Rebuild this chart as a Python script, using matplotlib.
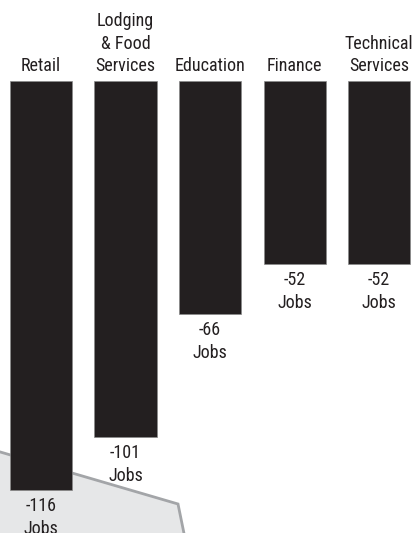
import matplotlib
matplotlib.use("Agg")
import matplotlib.pyplot as plt
from matplotlib.patches import Polygon

categories = ["Retail", "Lodging\n& Food\nServices", "Education", "Finance", "Technical\nServices"]
values = [-116, -101, -66, -52, -52]
value_labels = ["-116\nJobs", "-101\nJobs", "-66\nJobs", "-52\nJobs", "-52\nJobs"]

W, H = 413, 533
fig = plt.figure(figsize=(W / 100, H / 100), dpi=100)
ax = fig.add_axes([0, 0, 1, 1])
ax.set_xlim(-0.485, 4.402)
ax.set_ylim(-128.2, 22.97)
ax.axis("off")

font = ["Roboto Condensed", "Liberation Sans Narrow", "DejaVu Sans"]

# background polygon (decorative)
poly = Polygon([(-0.02, 1 - 449.5 / H), (178 / W, 1 - 504 / H), (185 / W, -0.01), (-0.02, -0.01)],
               closed=True, transform=ax.transAxes, facecolor="#e6e7e8",
               edgecolor="#a3a5a8", linewidth=2, zorder=0)
ax.add_patch(poly)

xs = list(range(len(categories)))
ax.bar(xs, values, width=0.734, bottom=0, color="#231f20",
       edgecolor="#8a8a8a", linewidth=0.5, zorder=2)

for x, cat, v, vl in zip(xs, categories, values, value_labels):
    ax.annotate(cat, (x, 0), xytext=(0, 4), textcoords="offset points",
                ha="center", va="bottom", fontsize=13, family=font,
                fontstretch="condensed", color="#231f20", linespacing=1.32)
    ax.annotate(vl, (x, v), xytext=(0, -5), textcoords="offset points",
                ha="center", va="top", fontsize=13, family=font,
                fontstretch="condensed", color="#231f20", linespacing=1.35)

fig.savefig("out.png", dpi=100)
